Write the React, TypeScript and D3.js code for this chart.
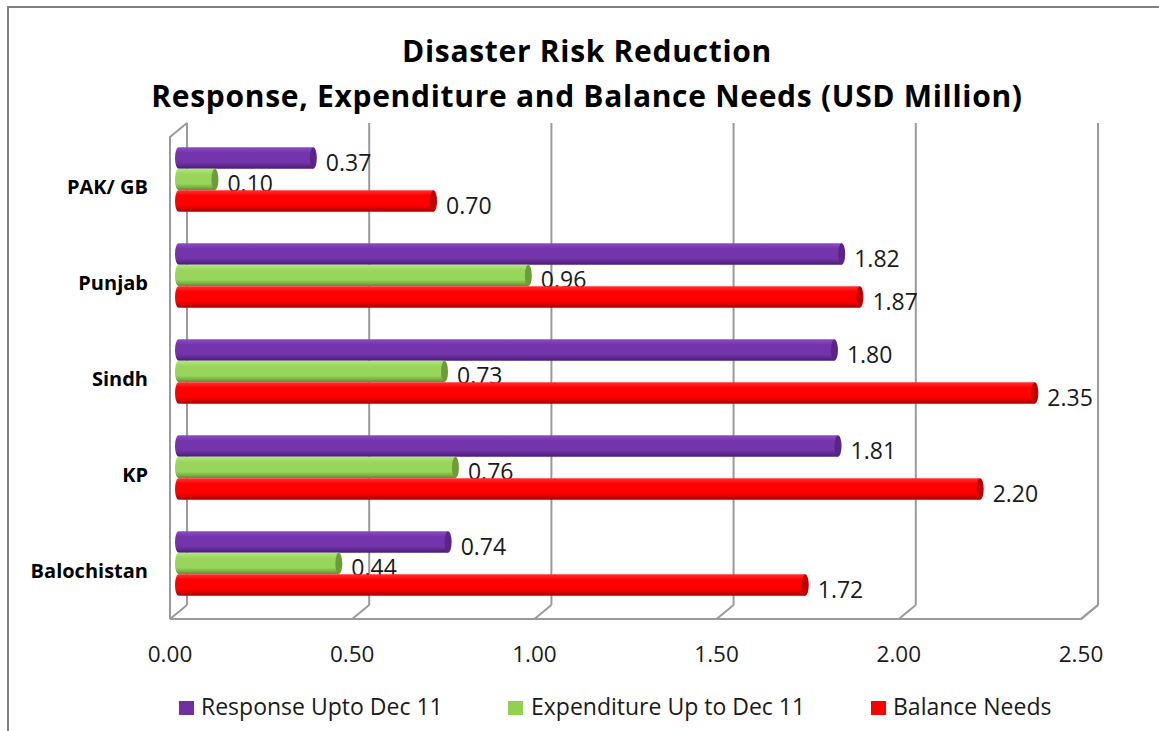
import React from "react";
import * as d3 from "d3";

const categories = ["PAK/ GB", "Punjab", "Sindh", "KP", "Balochistan"];
const seriesNames = ["Response Upto Dec 11", "Expenditure Up to Dec 11", "Balance Needs"];
const response = [0.37, 1.82, 1.8, 1.81, 0.74];
const expenditure = [0.1, 0.96, 0.73, 0.76, 0.44];
const balance = [0.7, 1.87, 2.35, 2.2, 1.72];
const ticks = [0, 0.5, 1.0, 1.5, 2.0, 2.5];
const titleLines = ["Disaster Risk Reduction", "Response, Expenditure and Balance Needs (USD Million)"];

const W = 1159;
const H = 731;
const FONT = "'Open Sans', sans-serif";

const colors = [
  { light: "#8a4cc6", main: "#7434ab", dark: "#4b1d72", cap: "#5a2587", legend: "#7030a0" },
  { light: "#b0ea7c", main: "#97d65a", dark: "#5f8d2f", cap: "#6d9d3a", legend: "#92d050" },
  { light: "#ff3030", main: "#ff0000", dark: "#a80000", cap: "#c00000", legend: "#ff0000" },
];

export default function App() {
  const series = [response, expenditure, balance];
  const backTop = 123;
  const backBottom = 605;
  const dx = -17;
  const dy = 14;
  const xBack = d3.scaleLinear().domain([0, 2.5]).range([187, 1098]);
  const xFront = d3.scaleLinear().domain([0, 2.5]).range([187 + dx, 1098 + dx]);
  const xBar = d3.scaleLinear().domain([0, 2.5]).range([178.5, 1089.5]);
  const yBand = d3.scaleBand<string>().domain(categories).range([131.5, 611.5]).padding(0);
  const barH = 21.5;
  const groupH = barH * 3;
  const rx = 3.5;
  const grid = "#9a9a9a";

  const legendPos = [
    { sq: 179, tx: 201 },
    { sq: 508, tx: 531 },
    { sq: 871, tx: 893 },
  ];

  return (
    <svg
      width={W}
      height={H}
      style={{ position: "absolute", left: 0, top: 0, background: "#fff" }}
      fontFamily={FONT}
    >
      <defs>
        {colors.map((c, i) => (
          <linearGradient key={i} id={`g${i}`} x1="0" y1="0" x2="0" y2="1">
            <stop offset="0" stopColor={c.light} />
            <stop offset="0.25" stopColor={c.main} />
            <stop offset="0.7" stopColor={c.main} />
            <stop offset="1" stopColor={c.dark} />
          </linearGradient>
        ))}
      </defs>
      <rect x={0} y={0} width={W} height={H} fill="#fff" />
      {/* outer frame */}
      <rect x={8} y={7} width={W + 20} height={H + 20} fill="none" stroke="#808080" strokeWidth={2} />

      {/* title */}
      {titleLines.map((t, i) => (
        <text
          key={i}
          x={587}
          y={62 + i * 45}
          textAnchor="middle"
          fontSize={30}
          letterSpacing={0.7}
          fontWeight="bold"
          fill="#000"
        >
          {t}
        </text>
      ))}

      {/* left wall */}
      <path
        d={`M${xBack(0) + dx},${backBottom + dy} L${xBack(0) + dx},${backTop + dy} L${xBack(0)},${backTop}`}
        fill="none"
        stroke={grid}
        strokeWidth={2}
      />
      {/* floor */}
      <path
        d={`M${xFront(0)},${backBottom + dy} L${xFront(2.5)},${backBottom + dy} L${xBack(2.5)},${backBottom}`}
        fill="none"
        stroke={grid}
        strokeWidth={2}
      />
      {/* gridlines */}
      {ticks.map((t, i) => (
        <g key={i}>
          <line x1={xBack(t)} x2={xBack(t)} y1={backTop} y2={backBottom} stroke={grid} strokeWidth={2} />
          <line x1={xBack(t)} x2={xFront(t)} y1={backBottom} y2={backBottom + dy} stroke={grid} strokeWidth={2} />
          <text x={xFront(t)} y={662} textAnchor="middle" fontSize={22.5} fill="#1a1a1a">
            {d3.format(".2f")(t)}
          </text>
        </g>
      ))}

      {/* category labels */}
      {categories.map((c) => (
        <text
          key={c}
          x={148}
          y={(yBand(c) as number) + yBand.bandwidth() / 2 + 14.5}
          textAnchor="end"
          fontSize={20}
          fontWeight="bold"
          fill="#000"
        >
          {c}
        </text>
      ))}

      {/* bars */}
      {series.map((vals, si) => (
        <g key={si}>
          {vals.map((v, ci) => {
            const y0 = (yBand(categories[ci]) as number) + yBand.bandwidth() / 2 - groupH / 2 + si * barH;
            const x0 = xBar(0);
            const x1 = xBar(v);
            const body = `M${x0},${y0} L${x1},${y0} L${x1},${y0 + barH} L${x0},${y0 + barH} A${rx},${barH / 2} 0 0 1 ${x0},${y0} Z`;
            return (
              <g key={ci}>
                <path d={body} fill={`url(#g${si})`} />
                <ellipse cx={x1} cy={y0 + barH / 2} rx={rx} ry={barH / 2} fill={colors[si].cap} />
                <text x={x1 + rx + 9} y={y0 + barH + 2} fontSize={23} fill="#1a1a1a">
                  {d3.format(".2f")(v)}
                </text>
              </g>
            );
          })}
        </g>
      ))}

      {/* legend */}
      {seriesNames.map((n, i) => (
        <g key={n}>
          <rect x={legendPos[i].sq} y={701} width={15} height={14} fill={colors[i].legend} />
          <text x={legendPos[i].tx} y={715} fontSize={23} fill="#1a1a1a">
            {n}
          </text>
        </g>
      ))}
    </svg>
  );
}
